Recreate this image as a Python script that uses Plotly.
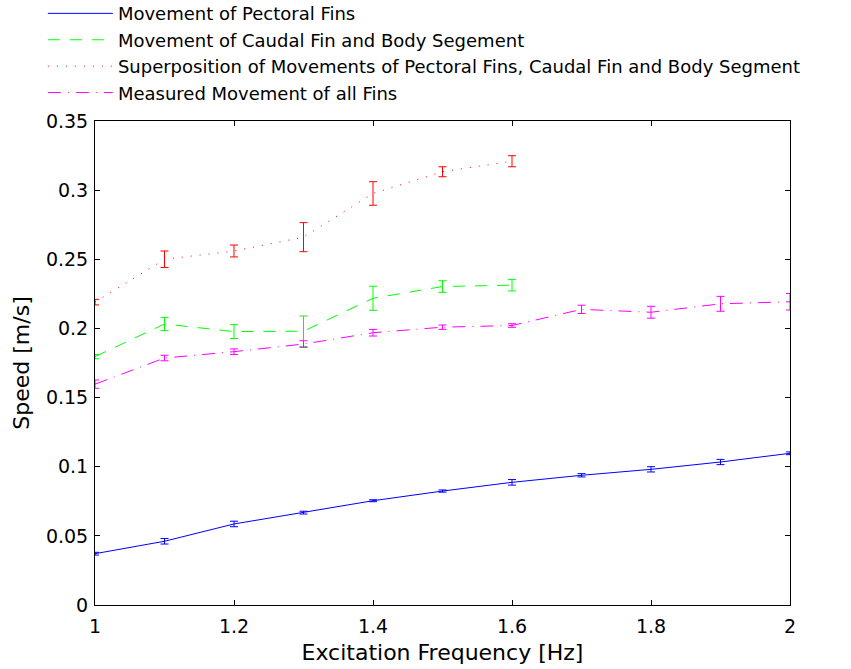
import plotly.graph_objects as go

# Excitation frequencies [Hz]
freq = [1.0, 1.1, 1.2, 1.3, 1.4, 1.5, 1.6, 1.7, 1.8, 1.9, 2.0]
freq_short = freq[:7]

# Speed [m/s] and standard deviation for each configuration
pectoral = [0.0371, 0.0461, 0.0586, 0.0668, 0.0754, 0.0824, 0.0887, 0.0938, 0.0981, 0.1034, 0.1097]
pectoral_err = [0.0010, 0.0020, 0.0020, 0.0010, 0.0007, 0.0008, 0.0020, 0.0012, 0.0019, 0.0019, 0.0010]

caudal = [0.1796, 0.2032, 0.1977, 0.1980, 0.2218, 0.2303, 0.2313]
caudal_err = [0.0015, 0.0048, 0.0050, 0.0110, 0.0087, 0.0042, 0.0042]

superposition = [0.2190, 0.2500, 0.2560, 0.2660, 0.2976, 0.3133, 0.3209]
superposition_err = [0.0020, 0.0060, 0.0043, 0.0105, 0.0085, 0.0036, 0.0040]

measured = [0.1597, 0.1786, 0.1832, 0.1887, 0.1969, 0.2009, 0.2021, 0.2138, 0.2117, 0.2178, 0.2193]
measured_err = [0.0030, 0.0020, 0.0020, 0.0024, 0.0024, 0.0016, 0.0013, 0.0030, 0.0043, 0.0054, 0.0060]

x_ticks = [1.0, 1.2, 1.4, 1.6, 1.8, 2.0]
x_tick_labels = ["1", "1.2", "1.4", "1.6", "1.8", "2"]
y_ticks = [0, 0.05, 0.1, 0.15, 0.2, 0.25, 0.3, 0.35]
y_tick_labels = ["0", "0.05", "0.1", "0.15", "0.2", "0.25", "0.3", "0.35"]

# MATLAB-like line styles: solid, dashed, dotted, dash-dot
series = [
    ("Movement of Pectoral Fins", freq, pectoral, pectoral_err, "#0000ff", "solid"),
    ("Movement of Caudal Fin and Body Segement", freq_short, caudal, caudal_err,
     "#00ff00", "12px,10px"),
    ("Superposition of Movements of Pectoral Fins, Caudal Fin and Body Segment",
     freq_short, superposition, superposition_err, "#ff0000", "1px,8px"),
    ("Measured Movement of all Fins", freq, measured, measured_err,
     "#ff00ff", "13px,7px,1px,7px"),
]

fig = go.Figure()
for name, xs, ys, errs, color, dash in series:
    fig.add_trace(go.Scatter(
        x=xs, y=ys, name=name, mode="lines",
        line=dict(color=color, width=1, dash=dash),
        error_y=dict(type="data", array=errs, visible=True,
                     color=color, thickness=1, width=4),
    ))

font_family = "DejaVu Sans, sans-serif"

fig.update_layout(
    width=851, height=669,
    paper_bgcolor="white", plot_bgcolor="white",
    margin=dict(l=95, r=61, t=121, b=64, autoexpand=False),
    font=dict(family=font_family, color="black", size=19),
    showlegend=True,
    legend=dict(
        x=-0.075, y=1.26, xref="paper", yref="paper",
        xanchor="left", yanchor="top",
        font=dict(family=font_family, size=18, color="black"),
        bgcolor="rgba(0,0,0,0)", borderwidth=0,
        tracegroupgap=0, itemwidth=65,
    ),
)

fig.update_xaxes(
    range=[1.0, 2.0], tickvals=x_ticks, ticktext=x_tick_labels,
    ticks="inside", ticklen=5, tickcolor="black", tickwidth=1,
    showline=True, linecolor="black", linewidth=1, mirror="ticks",
    showgrid=False, zeroline=False,
    tickfont=dict(size=19), ticklabelstandoff=4,
    title=dict(text="Excitation Frequency [Hz]", font=dict(size=22), standoff=8),
)
fig.update_yaxes(
    range=[0, 0.35], tickvals=y_ticks, ticktext=y_tick_labels,
    ticks="inside", ticklen=5, tickcolor="black", tickwidth=1,
    showline=True, linecolor="black", linewidth=1, mirror="ticks",
    showgrid=False, zeroline=False,
    tickfont=dict(size=19), ticklabelstandoff=2,
    title=dict(text="Speed [m/s]", font=dict(size=22), standoff=10),
)

fig.write_html("out.html")
